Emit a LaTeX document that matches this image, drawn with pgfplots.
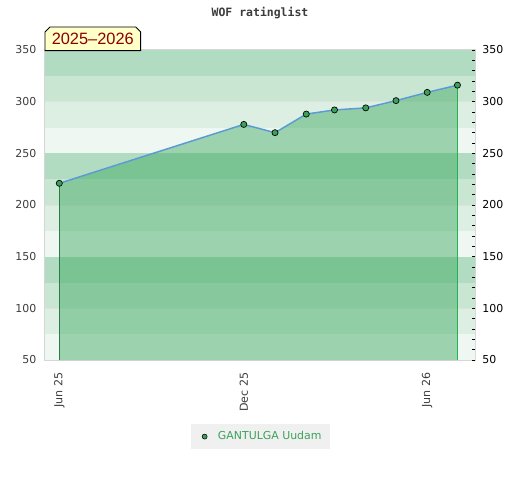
\documentclass[border=0pt]{standalone}
\usepackage{pgfplots}
\pgfplotsset{compat=1.18}
\usepackage{fontspec}
\setmainfont{DejaVu Sans}
\newfontfamily\badgefont{Liberation Sans}
\newfontfamily\titlefont{DejaVu Sans Mono}
\definecolor{bandA}{RGB}{178,220,193}
\definecolor{bandB}{RGB}{200,230,210}
\definecolor{bandC}{RGB}{220,239,226}
\definecolor{bandD}{RGB}{238,247,241}
\definecolor{gridc}{RGB}{222,226,223}
\definecolor{fillg}{RGB}{50,163,85}
\definecolor{lineb}{RGB}{91,155,213}
\definecolor{markg}{RGB}{60,160,90}
\definecolor{edgeL}{RGB}{40,125,68}
\definecolor{edgeR}{RGB}{30,180,80}
\definecolor{framec}{RGB}{214,214,214}
\definecolor{tickc}{RGB}{60,60,60}
\definecolor{legtext}{RGB}{58,163,90}
\definecolor{legbg}{RGB}{240,240,240}
\definecolor{badgebg}{RGB}{255,255,200}
\definecolor{badgetext}{RGB}{139,0,0}
\pgfplotstableread{
day rating
0 221
183 278
214 270
245 288
273 292
304 294
334 301
365 309
395 316
}\ratings
\begin{document}
\begin{tikzpicture}
\path[use as bounding box] (0,0) rectangle (390pt,360pt);
\begin{axis}[
  at={(33.75pt,90pt)}, anchor=south west,
  width=322.5pt, height=232.5pt, scale only axis,
  xmin=-14.2, xmax=412.4, ymin=50, ymax=350,
  /pgf/number format/assume math mode=true,
  axis line style={draw=framec, line width=0.9pt},
  xtick={0,183,365}, xticklabels={Jun 25,Dec 25,Jun 26},
  xtick style={draw=none},
  xticklabel style={rotate=90, anchor=east, font=\fontsize{8.3}{9}\selectfont, text=tickc, xshift=-6pt},
  ytick={50,100,...,350},
  ytick style={draw=none},
  yticklabel style={font=\fontsize{8.2}{9}\selectfont, text=tickc, xshift=-3pt},
  legend style={at={(0.501,-0.247)}, anchor=center, fill=legbg, draw=none,
    font=\fontsize{8.2}{9}\selectfont, text=legtext, inner xsep=4pt, inner ysep=3.2pt},
  legend image code/.code={\path[draw=none] (-0.3em,0) -- (1.1em,0); \draw[fill=markg, draw=black, line width=0.4pt] (0.3em,0) circle (1.9pt);},
]
\fill[bandA] (axis cs:-20,325) rectangle (axis cs:420,350);
\fill[bandB] (axis cs:-20,300) rectangle (axis cs:420,325);
\fill[bandC] (axis cs:-20,275) rectangle (axis cs:420,300);
\fill[bandD] (axis cs:-20,250) rectangle (axis cs:420,275);
\fill[bandA] (axis cs:-20,225) rectangle (axis cs:420,250);
\fill[bandB] (axis cs:-20,200) rectangle (axis cs:420,225);
\fill[bandC] (axis cs:-20,175) rectangle (axis cs:420,200);
\fill[bandD] (axis cs:-20,150) rectangle (axis cs:420,175);
\fill[bandA] (axis cs:-20,125) rectangle (axis cs:420,150);
\fill[bandB] (axis cs:-20,100) rectangle (axis cs:420,125);
\fill[bandC] (axis cs:-20,75) rectangle (axis cs:420,100);
\fill[bandD] (axis cs:-20,50) rectangle (axis cs:420,75);
\draw[gridc, line width=0.6pt] (axis cs:-20,100) -- (axis cs:420,100);
\draw[gridc, line width=0.6pt] (axis cs:-20,200) -- (axis cs:420,200);
\draw[gridc, line width=0.6pt] (axis cs:-20,300) -- (axis cs:420,300);
\addplot[draw=none, fill=fillg, fill opacity=0.43, forget plot] table[x=day,y=rating] {\ratings} \closedcycle;
\addplot[color=edgeL, solid, mark=none, line width=1.05pt, forget plot] table[x=day,y=rating] {
day rating
0 50
0 221
};
\addplot[color=edgeR, solid, mark=none, line width=1.05pt, forget plot] table[x=day,y=rating] {
day rating
395 50
395 316
};
\addplot[draw=lineb, line width=1.1pt, forget plot] table[x=day,y=rating] {\ratings};
\addplot[only marks, mark=*, mark size=2.3pt, mark options={fill=markg, draw=black, line width=0.5pt}] table[x=day,y=rating] {\ratings};
\addlegendentry{GANTULGA Uudam}
\end{axis}
\begin{axis}[
  at={(33.75pt,90pt)}, anchor=south west,
  width=322.5pt, height=232.5pt, scale only axis,
  xmin=-14.2, xmax=412.4, ymin=50, ymax=350,
  /pgf/number format/assume math mode=true,
  axis line style={draw=none},
  xtick=\empty,
  ytick={50,100,...,350},
  ytick pos=right, yticklabel pos=right,
  minor y tick num=4, tick align=inside,
  major tick length=2.4pt, minor tick length=2.4pt,
  every tick/.style={black, line width=0.6pt},
  yticklabel style={font=\fontsize{8.2}{9}\selectfont, text=black, xshift=2pt},
]
\addplot[draw=none] coordinates {(0,50)};
\end{axis}
\node[font=\titlefont\bfseries\fontsize{8.6}{10}\selectfont, text=tickc] at (195pt,350.25pt) {WOF ratinglist};
\draw[fill=badgebg, draw=black, line width=0.7pt] (33.75pt,322pt) -- (33.75pt,336pt) -- (37.5pt,339.75pt) -- (101.75pt,339.75pt) -- (105.5pt,336pt) -- (105.5pt,322pt) -- cycle;
\node[font=\badgefont\fontsize{12.3}{14}\selectfont, text=badgetext] at (69.6pt,330.9pt) {2025–2026};
\end{tikzpicture}
\end{document}
